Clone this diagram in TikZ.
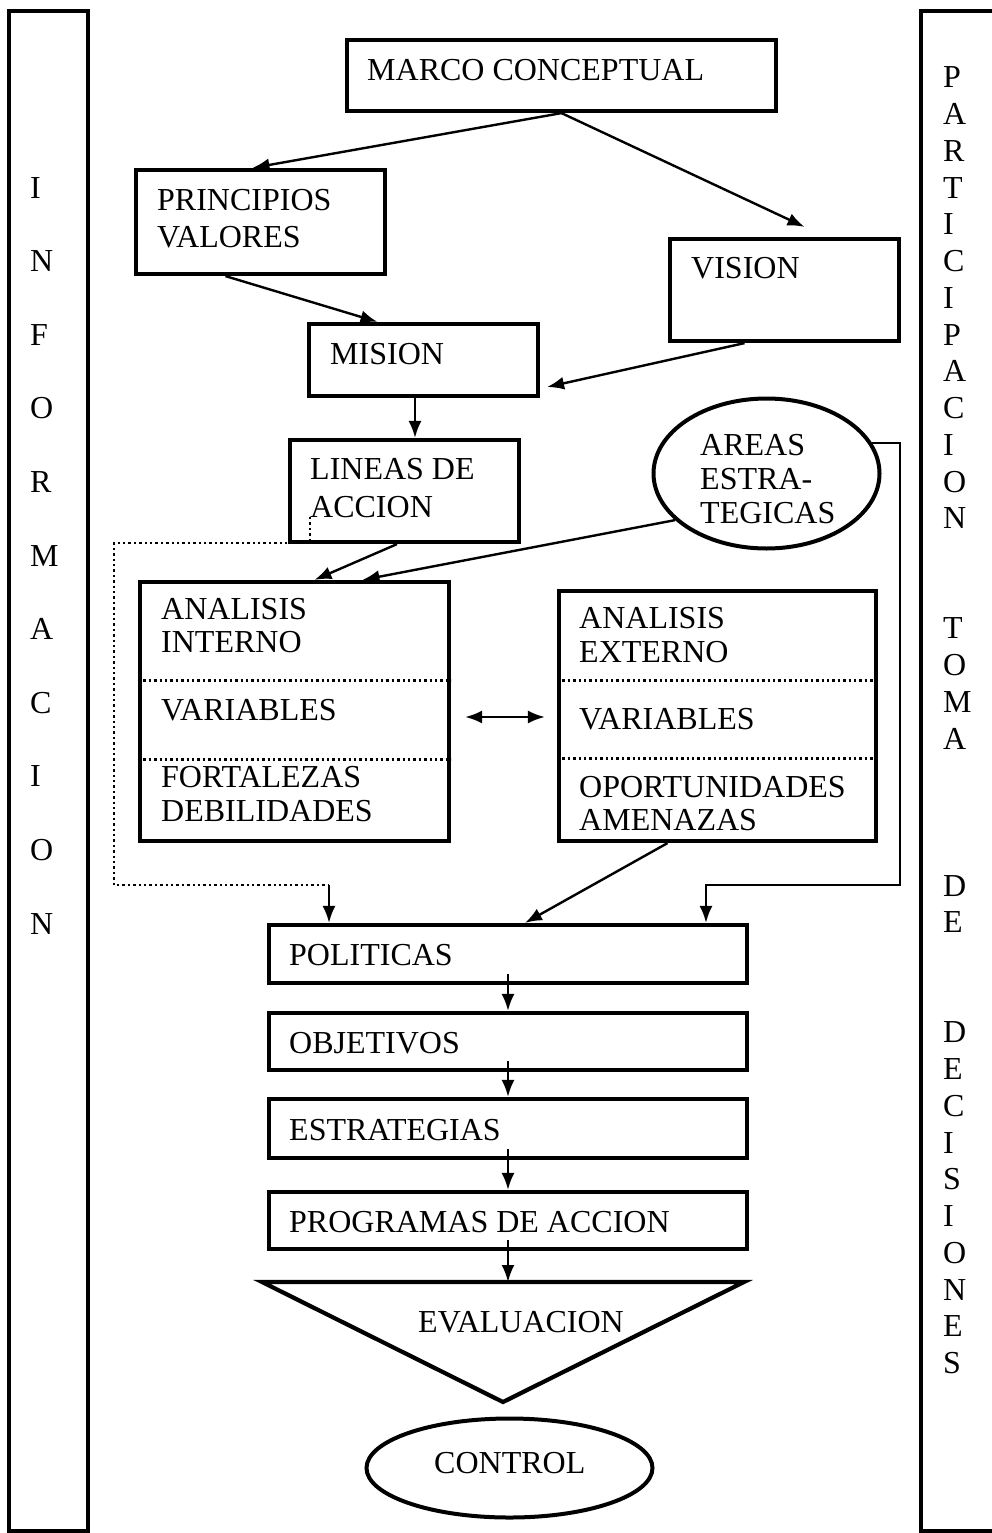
\documentclass[tikz,border=0pt]{standalone}
\usepackage{fontspec}
\setmainfont{Liberation Serif}
\usetikzlibrary{arrows.meta,shapes.geometric,calc}
\begin{document}
\begin{tikzpicture}[x=1pt,y=-1pt,
  box/.style={draw, line width=4.2pt, inner sep=0pt},
  ell/.style={draw, ellipse, line width=4pt, inner sep=0pt},
  txt/.style={anchor=base west, inner sep=0pt, font=\fontsize{32}{37}\selectfont},
  arr/.style={line width=2.4pt, -{Latex[length=17pt,width=13pt]}},
  dbl/.style={line width=2.4pt, {Latex[length=17pt,width=13pt]}-{Latex[length=17pt,width=13pt]}},
  dots/.style={line width=2.4pt, dash pattern=on 2.4pt off 3pt},
  divider/.style={line width=2.4pt, dash pattern=on 2.4pt off 3pt},
  bar/.style={line width=4.2pt}
]
\useasboundingbox (0,0) rectangle (991,1533);

% side bars
\draw[bar] (9,11) rectangle (88,1531);
\draw[bar] (921,11) rectangle (1010,1531);
\foreach \l [count=\i from 0] in {I,N,F,O,R,M,A,C,I,O,N}
  \node[txt] (info\i) at (30,{198+73.6*\i}) {\l};
\foreach \k/\l in {0/P,1/A,2/R,3/T,4/I,5/C,6/I,7/P,8/A,9/C,10/I,11/O,12/N,
                   15/T,16/O,17/M,18/A,22/D,23/E,
                   26/D,27/E,28/C,29/I,30/S,31/I,32/O,33/N,34/E,35/S}
  \node[txt] (part\k) at (943,{88+36.73*\k}) {\l};

% boxes
\node[box, minimum width=429pt, minimum height=71pt] (marco) at (561.5,75.5) {};
\node[txt] (marcoT) at (367,81) {MARCO CONCEPTUAL};

\node[box, minimum width=249pt, minimum height=104pt] (princ) at (260.5,222) {};
\node[txt] (princT1) at (157,211) {PRINCIPIOS};
\node[txt] (princT2) at (157,247) {VALORES};

\node[box, minimum width=229pt, minimum height=102pt] (vision) at (784.5,290) {};
\node[txt] (visionT) at (691,278) {VISION};

\node[box, minimum width=229pt, minimum height=72pt] (mision) at (423.5,360) {};
\node[txt] (misionT) at (330,364) {MISION};

\node[box, minimum width=229pt, minimum height=102pt] (lineas) at (404.5,491) {};
\node[txt] (lineasT1) at (310,479) {LINEAS DE};
\node[txt] (lineasT2) at (310,517) {ACCION};

\node[ell, minimum width=226pt, minimum height=150pt] (areas) at (766.5,473.5) {};
\node[txt] (areasT1) at (700,455) {AREAS};
\node[txt] (areasT2) at (700,489) {ESTRA-};
\node[txt] (areasT3) at (700,523) {TEGICAS};

\node[box, minimum width=309pt, minimum height=259pt] (interno) at (294.5,711.5) {};
\draw[divider] ([yshift=-100.5pt]interno.north west) -- ([yshift=-100.5pt]interno.north east);
\draw[divider] ([yshift=-179.5pt]interno.north west) -- ([yshift=-179.5pt]interno.north east);
\node[txt] (intT1) at (161,619) {ANALISIS};
\node[txt] (intT2) at (161,652) {INTERNO};
\node[txt] (intT3) at (161,720) {VARIABLES};
\node[txt] (intT4) at (161,787) {FORTALEZAS};
\node[txt] (intT5) at (161,821) {DEBILIDADES};

\node[box, minimum width=317pt, minimum height=250pt] (externo) at (717.5,716) {};
\draw[divider] ([yshift=-91.5pt]externo.north west) -- ([yshift=-91.5pt]externo.north east);
\draw[divider] ([yshift=-169.5pt]externo.north west) -- ([yshift=-169.5pt]externo.north east);
\node[txt] (extT1) at (579,628) {ANALISIS};
\node[txt] (extT2) at (579,662) {EXTERNO};
\node[txt] (extT3) at (579,729) {VARIABLES};
\node[txt] (extT4) at (579,797) {OPORTUNIDADES};
\node[txt] (extT5) at (579,830) {AMENAZAS};

\node[box, minimum width=478pt, minimum height=58pt] (pol) at (508,954) {};
\node[txt] (polT) at (289,965) {POLITICAS};
\node[box, minimum width=478pt, minimum height=57pt] (obj) at (508,1041.5) {};
\node[txt] (objT) at (289,1053) {OBJETIVOS};
\node[box, minimum width=478pt, minimum height=59pt] (est) at (508,1128.5) {};
\node[txt] (estT) at (289,1140) {ESTRATEGIAS};
\node[box, minimum width=478pt, minimum height=57pt] (prog) at (508,1220.5) {};
\node[txt] (progT) at (289,1232) {PROGRAMAS DE ACCION};

% evaluation triangle
\coordinate (evL) at (262,1282);
\coordinate (evR) at (744,1282);
\coordinate (evB) at (503,1402);
\coordinate (evtop) at (508,1282);
\draw[line width=4.2pt, line join=miter] (evL) -- (evR) -- (evB) -- cycle;
\node[txt] (evalT) at (418,1332) {EVALUACION};

\node[ell, minimum width=286pt, minimum height=99pt] (control) at (509.5,1468) {};
\node[txt] (controlT) at (434,1473) {CONTROL};

% connectors
\draw[arr] (marco.south) -- ([xshift=-8pt]princ.north);
\draw[arr] (marco.south) -- ([xshift=20pt,yshift=10pt]vision.north);
\draw[arr] ([xshift=-35pt]princ.south) -- ([xshift=-46pt]mision.north);
\draw[arr] ([xshift=-40pt]vision.south) -- ([xshift=7pt,yshift=-27pt]mision.east);
\draw[arr] ([xshift=-8.5pt]mision.south) -- ([xshift=10.5pt]lineas.north);
\draw[arr] ([xshift=-7.5pt]lineas.south) -- ([xshift=20pt]interno.north);
\draw[arr] (areas.207) -- ([xshift=68pt]interno.north);
\draw[dbl] ([xshift=14pt,yshift=-5.5pt]interno.east) -- ([xshift=-12pt,yshift=-1pt]externo.west);
\draw[arr] ([xshift=-50pt]externo.south) -- ([xshift=17pt]pol.north);

\coordinate (rt) at (900,885);
\draw[arr] (areas.16) -| (rt) -| ([xshift=198pt]pol.north);

\coordinate (ds) at (310,517);
\coordinate (dtop) at (114,543);
\coordinate (dcorner) at (329,885);
\draw[dots] (ds) |- (dtop) |- (dcorner);
\draw[arr] (dcorner) -- ([xshift=-179pt]pol.north);

\draw[arr] ([yshift=11pt]pol.south) -- (obj.north);
\draw[arr] ([yshift=11pt]obj.south) -- (est.north);
\draw[arr] ([yshift=11pt]est.south) -- (prog.north);
\draw[arr] ([yshift=11pt]prog.south) -- (evtop);
\end{tikzpicture}
\end{document}
